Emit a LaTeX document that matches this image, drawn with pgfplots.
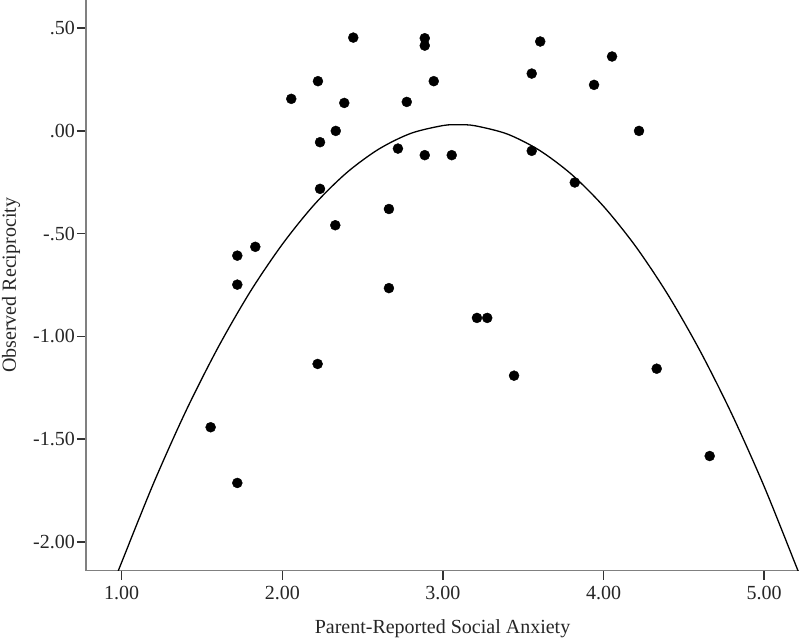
\documentclass[border=0pt]{standalone}
\usepackage{fontspec}
\setmainfont{Liberation Serif}
\usepackage{pgfplots}
\pgfplotsset{compat=1.18}
\begin{document}
\begin{tikzpicture}
\begin{axis}[
  at={(0,0)}, anchor=south west,
  scale only axis,
  width=713pt, height=570.7pt,
  xmin=0.778, xmax=5.217,
  ymin=-2.14, ymax=0.637,
  axis lines*=left,
  axis line style={draw=black!50, line width=1.4pt},
  tick align=outside,
  major tick length=9pt,
  tick style={draw=black!80, line width=1.4pt},
  xtick={1,2,3,4,5},
  xticklabels={1.00,2.00,3.00,4.00,5.00},
  ytick={-2,-1.5,-1,-0.5,0,0.5},
  yticklabels={-2.00,-1.50,-1.00,-.50,.00,.50},
  ticklabel style={font=\fontsize{20}{24}\selectfont, text=black!85},
  xticklabel style={inner sep=0pt, yshift=-6pt},
  yticklabel style={inner sep=2pt},
  xlabel={Parent-Reported Social Anxiety},
  ylabel={Observed Reciprocity},
  every axis x label/.style={at={(axis description cs:0.5,-0.1092)}, anchor=base, inner sep=0pt, font=\fontsize{20}{24}\selectfont, text=black!85},
  every axis y label/.style={at={(axis description cs:-0.0982,0.5)}, anchor=base, rotate=90, inner sep=0pt, font=\fontsize{20}{24}\selectfont, text=black!85},
  clip=true,
]
\addplot[only marks, mark=*, mark size=5pt, mark options={fill=black, draw=black}] coordinates {
(2.442,0.454) (2.887,0.451) (2.887,0.415) (3.606,0.435) (4.053,0.362)
(3.553,0.279) (2.222,0.242) (2.943,0.242) (2.056,0.156) (2.386,0.136)
(2.775,0.141) (3.941,0.224) (2.333,0.000) (4.221,0.000) (2.235,-0.055)
(2.720,-0.086) (2.887,-0.118) (3.055,-0.118) (3.553,-0.097) (3.821,-0.251)
(2.235,-0.282) (2.664,-0.380) (2.330,-0.459) (1.832,-0.564) (1.720,-0.607)
(1.720,-0.748) (2.664,-0.765) (3.212,-0.910) (3.276,-0.910) (2.220,-1.134)
(3.443,-1.191) (4.331,-1.157) (1.554,-1.442) (1.720,-1.713) (4.661,-1.582)
};
\addplot[black, line width=1.3pt, smooth] coordinates {
(0.98,-2.139) (1.0,-2.099) (1.2,-1.712) (1.4,-1.363) (1.6,-1.054)
(1.8,-0.783) (2.0,-0.552) (2.2,-0.358) (2.4,-0.204) (2.6,-0.089)
(2.8,-0.012) (3.0,0.026) (3.1,0.030) (3.2,0.025) (3.4,-0.015)
(3.6,-0.094) (3.8,-0.211) (4.0,-0.367) (4.2,-0.562) (4.4,-0.796)
(4.6,-1.069) (4.8,-1.380) (5.0,-1.730) (5.2,-2.119) (5.21,-2.139)
};
\end{axis}
\pgfresetboundingbox
\path (-86pt,-68.3pt) rectangle (714pt,570.7pt);
\end{tikzpicture}
\end{document}
